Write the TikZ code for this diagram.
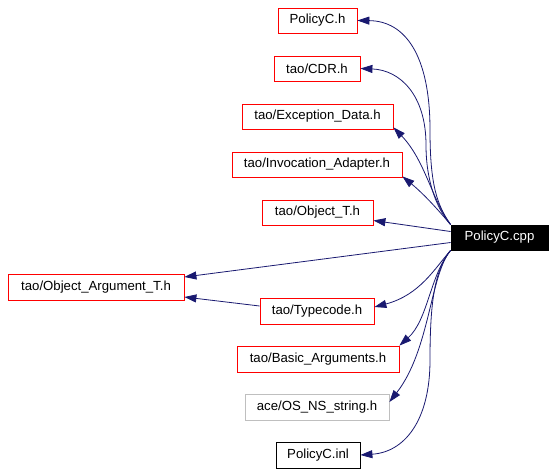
\documentclass[tikz,border=0pt]{standalone}
\usepackage{fontspec}
\setmainfont{Liberation Sans}
\usetikzlibrary{arrows.meta}
\definecolor{edgeblue}{RGB}{25,25,112}
\definecolor{boxgray}{RGB}{191,191,191}
\tikzset{
  box/.style={draw=red, line width=0.8pt, minimum height=25, inner sep=0pt, font=\fontsize{13.2}{15}\selectfont},
  graybox/.style={box, draw=boxgray},
  blackbox/.style={box, draw=black},
  rootbox/.style={box, draw=black, fill=black, text=white},
  dep/.style={draw=edgeblue, line width=0.8pt, -{Triangle[length=12pt,width=8pt]}},
}
\begin{document}
\begin{tikzpicture}[x=1pt,y=-1pt]
\useasboundingbox (0,0) rectangle (551,474);
\node[box, minimum width=79] (ph) at (317.5,20.5) {PolicyC.h};
\node[box, minimum width=86] (cdr) at (317,68.5) {tao/CDR.h};
\node[box, minimum width=151] (exd) at (317.5,116.5) {tao/Exception\_Data.h};
\node[box, minimum width=170] (inv) at (317,164.5) {tao/Invocation\_Adapter.h};
\node[box, minimum width=111] (objt) at (317.5,212.5) {tao/Object\_T.h};
\node[rootbox, minimum width=97] (cpp) at (499.5,237.5) {PolicyC.cpp};
\node[box, minimum width=176, minimum height=26] (oat) at (96,287) {tao/Object\_Argument\_T.h};
\node[box, minimum width=114, minimum height=26] (tc) at (317,311) {tao/Typecode.h};
\node[box, minimum width=162, minimum height=26] (ba) at (318,359) {tao/Basic\_Arguments.h};
\node[graybox, minimum width=144, minimum height=26] (os) at (317,407) {ace/OS\_NS\_string.h};
\node[blackbox, minimum width=84, minimum height=26] (inl) at (318,455) {PolicyC.inl};

\draw[dep] (cpp.north west) .. controls (437,205) and (430,185) .. (430,130)
  .. controls (430,55) and (405,21) .. (ph.east);
\draw[dep] (cpp.north west) .. controls (436,208) and (426,180) .. (426,145)
  .. controls (426,95) and (400,70) .. (cdr.east);
\draw[dep] (cpp.north west) .. controls (432,200) and (425,160) .. ([yshift=2pt]exd.south east);
\draw[dep] (cpp.north west) .. controls (440,212) and (425,195) .. ([yshift=1pt]inv.south east);
\draw[dep] ([yshift=6pt]cpp.west) -- ([yshift=-8pt]objt.east);
\draw[dep] ([yshift=-5pt]cpp.west) -- ([yshift=10pt]oat.east);
\draw[dep] ([yshift=5pt]tc.west) -- ([yshift=-10pt]oat.east);
\draw[dep] (cpp.south west) .. controls (435,268) and (420,295) .. ([yshift=4pt]tc.east);
\draw[dep] (cpp.south west) .. controls (430,275) and (428,320) .. (ba.north east);
\draw[dep] (cpp.south west) .. controls (430,275) and (430,350) .. ([yshift=5pt]os.east);
\draw[dep] (cpp.south west) .. controls (435,270) and (430,300) .. (430,360)
  .. controls (430,420) and (405,452) .. (inl.east);
\end{tikzpicture}
\end{document}
